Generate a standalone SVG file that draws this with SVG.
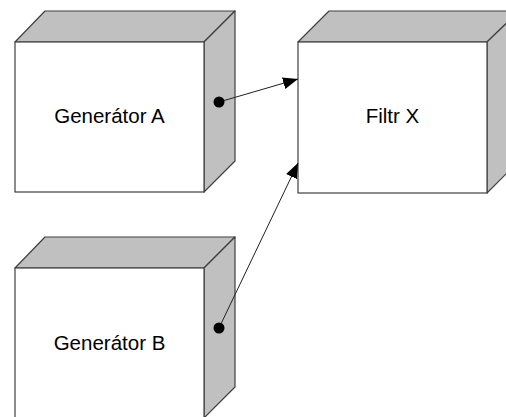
<svg xmlns="http://www.w3.org/2000/svg" width="506" height="417" viewBox="0 0 506 417">
  <style>
    .face { fill: #ffffff; stroke: #404040; stroke-width: 1.2; }
    .side { fill: #c0c0c0; stroke: #404040; stroke-width: 1.2; stroke-linejoin: round; }
    .label { font-family: "Liberation Sans", Arial, sans-serif; font-size: 20.5px; fill: #000000; text-anchor: middle; }
    .wire { stroke: #202020; stroke-width: 1; fill: none; }
    .port { fill: #000000; }
  </style>
  <defs>
    <marker id="arrow" viewBox="0 0 15 12" refX="15" refY="6" markerWidth="15" markerHeight="12" markerUnits="userSpaceOnUse" orient="auto">
      <path d="M0,0 L15,6 L0,12 Z" fill="#000000"/>
    </marker>
  </defs>

  <g id="generator-a">
    <polygon class="side" points="15,42 45,11 235,11 204,42"/>
    <polygon class="side" points="204,42 235,11 235,161 204,192"/>
    <rect class="face" x="15" y="42" width="189" height="150"/>
    <text class="label" x="109.5" y="123">Generátor A</text>
  </g>

  <g id="filtr-x">
    <polygon class="side" points="298,42 329,11 519,11 487,42"/>
    <polygon class="side" points="487,42 519,11 519,161 487,193"/>
    <rect class="face" x="298" y="42" width="189" height="151"/>
    <text class="label" x="392.5" y="123">Filtr X</text>
  </g>

  <g id="generator-b">
    <polygon class="side" points="15,268 45,237 235,237 204,268"/>
    <polygon class="side" points="204,268 235,237 235,387 204,418"/>
    <rect class="face" x="15" y="268" width="189" height="150"/>
    <text class="label" x="109.5" y="350">Generátor B</text>
  </g>

  <g id="connectors">
    <line class="wire" x1="219" y1="102" x2="298" y2="79" marker-end="url(#arrow)"/>
    <circle class="port" cx="219" cy="102" r="5.5"/>
    <line class="wire" x1="219" y1="328" x2="298" y2="163" marker-end="url(#arrow)"/>
    <circle class="port" cx="219" cy="328" r="5.5"/>
  </g>
</svg>
